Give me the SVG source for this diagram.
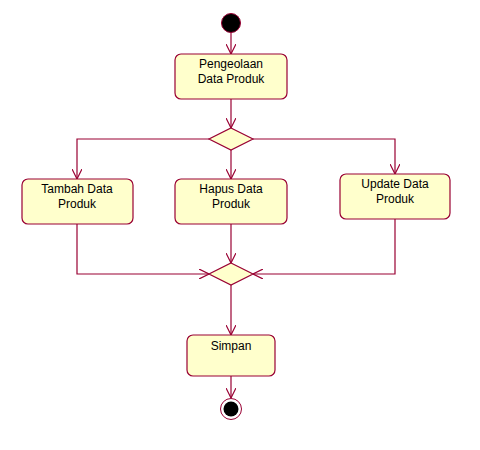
<svg xmlns="http://www.w3.org/2000/svg" width="480" height="450" viewBox="0 0 480 450">
<style>
.box{fill:#ffffcc;stroke:#990033;stroke-width:1.2}
.dia{fill:#ffffcc;stroke:#990033;stroke-width:1.2}
.ln{fill:none;stroke:#990033;stroke-width:1.2}
.t{font-family:"Liberation Sans",Arial,sans-serif;font-size:12px;fill:#000;text-anchor:middle}
</style>
<defs>
<marker id="arr" viewBox="0 0 10 10" refX="10" refY="5" markerWidth="10" markerHeight="10" markerUnits="userSpaceOnUse" orient="auto">
<path d="M0,0 L10,5 L0,10" fill="none" stroke="#990033" stroke-width="1.2"/>
</marker>
</defs>
<rect width="480" height="450" fill="#fff"/>
<g id="connectors">
<line class="ln" x1="231" y1="32" x2="231" y2="54" marker-end="url(#arr)"/>
<line class="ln" x1="231" y1="99" x2="231" y2="128" marker-end="url(#arr)"/>
<polyline class="ln" points="209,139 77,139 77,179" marker-end="url(#arr)"/>
<line class="ln" x1="231" y1="150" x2="231" y2="179" marker-end="url(#arr)"/>
<polyline class="ln" points="253,139 395,139 395,174" marker-end="url(#arr)"/>
<polyline class="ln" points="77,224 77,274 209,274" marker-end="url(#arr)"/>
<line class="ln" x1="231" y1="224" x2="231" y2="263" marker-end="url(#arr)"/>
<polyline class="ln" points="395,219 395,274 253,274" marker-end="url(#arr)"/>
<line class="ln" x1="231" y1="285" x2="231" y2="335" marker-end="url(#arr)"/>
<line class="ln" x1="231" y1="376" x2="231" y2="398" marker-end="url(#arr)"/>
</g>
<g id="start"><circle cx="231" cy="23" r="9.5" fill="#000" stroke="#990033" stroke-width="1"/></g>
<g id="pengeolaan">
<rect class="box" x="175" y="54" width="112" height="45" rx="6"/>
<text class="t" x="231" y="68">Pengeolaan</text>
<text class="t" x="231" y="83">Data Produk</text>
</g>
<g id="decision"><polygon class="dia" points="231,128 253,139 231,150 209,139"/></g>
<g id="tambah">
<rect class="box" x="22" y="179" width="111" height="45" rx="6"/>
<text class="t" x="77" y="193">Tambah Data</text>
<text class="t" x="77" y="208">Produk</text>
</g>
<g id="hapus">
<rect class="box" x="175" y="179" width="112" height="45" rx="6"/>
<text class="t" x="231" y="193">Hapus Data</text>
<text class="t" x="231" y="208">Produk</text>
</g>
<g id="update">
<rect class="box" x="340" y="174" width="110" height="45" rx="6"/>
<text class="t" x="395" y="188">Update Data</text>
<text class="t" x="395" y="203">Produk</text>
</g>
<g id="merge"><polygon class="dia" points="231,263 253,274 231,285 209,274"/></g>
<g id="simpan">
<rect class="box" x="187" y="335" width="88" height="41" rx="6"/>
<text class="t" x="231" y="350">Simpan</text>
</g>
<g id="end">
<circle cx="231" cy="409" r="10.5" fill="#fff" stroke="#990033" stroke-width="1"/>
<circle cx="231" cy="409" r="7.5" fill="#000"/>
</g>
</svg>
